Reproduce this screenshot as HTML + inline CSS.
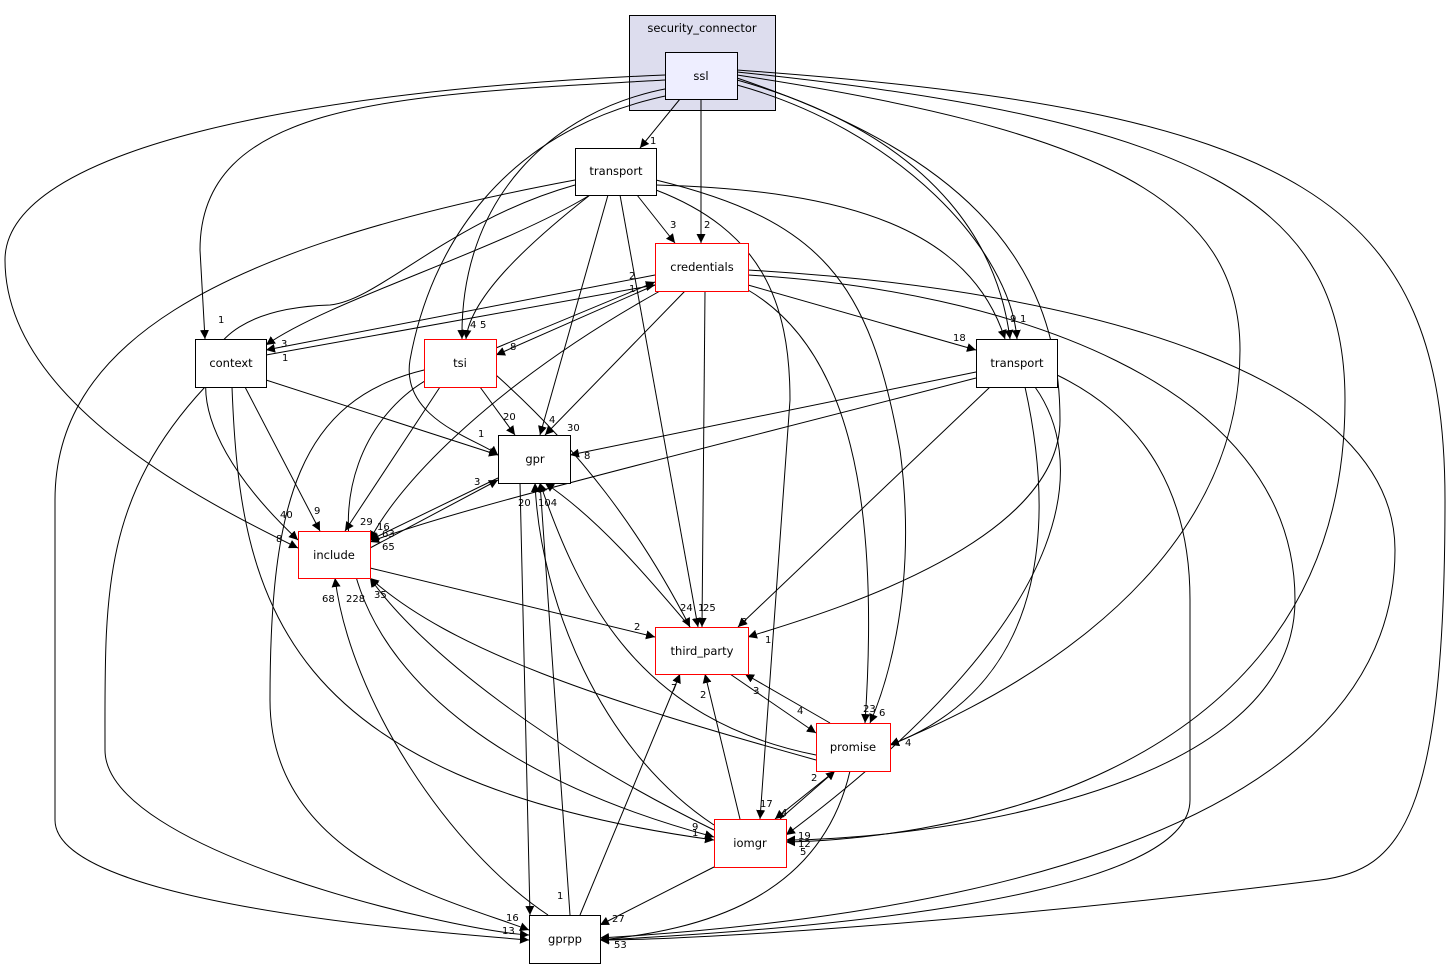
<!DOCTYPE html>
<html><head><meta charset="utf-8"><style>
html,body{margin:0;padding:0;background:#fff;}
svg{display:block;font-family:"DejaVu Sans","Liberation Sans",sans-serif;}
.e{fill:none;stroke:#000;stroke-width:1;marker-end:url(#a);}
.l{font-size:10px;fill:#000;}
.n{font-size:11.5px;fill:#000;text-anchor:middle;}
</style></head><body>
<svg width="1451" height="969" viewBox="0 0 1451 969" xmlns="http://www.w3.org/2000/svg">
<defs><marker id="a" viewBox="0 0 10 10" refX="10" refY="5" markerWidth="9" markerHeight="9" markerUnits="userSpaceOnUse" orient="auto"><path d="M0,0 L10,5 L0,10 z" fill="#000"/></marker></defs>
<rect x="629.5" y="15.5" width="146" height="95" fill="#ddddee" stroke="#000"/>
<text class="n" x="702" y="32">security_connector</text>

<path class="e" d="M680,99 L640,148"/>
<path class="e" d="M701,99 L701,243"/>
<path class="e" d="M665,80 C400,95 200,100 200,250 L205,339"/>
<path class="e" d="M665,75 C300,90 5,150 5,260 C5,400 200,500 298,548"/>
<path class="e" d="M670,88 C550,110 460,200 462,339"/>
<path class="e" d="M670,95 C500,130 430,250 410,360 C400,420 480,440 498,455"/>
<path class="e" d="M737,85 C900,130 1010,250 1017,339"/>
<path class="e" d="M737,80 C950,140 1000,260 1010,339"/>
<path class="e" d="M737,78 C950,150 1060,250 1060,420 C1060,550 800,620 748,637"/>
<path class="e" d="M737,75 C1100,130 1240,200 1240,350 C1240,600 950,720 890,745"/>
<path class="e" d="M737,72 C1200,120 1345,200 1345,400 C1345,800 900,840 786,842"/>
<path class="e" d="M737,70 C1300,110 1445,200 1445,500 C1445,820 1400,870 1320,880 C1000,920 700,940 600,940"/>

<path class="e" d="M590,195 C500,250 330,300 266,345"/>
<path class="e" d="M575,185 C450,220 380,300 330,305 C170,310 170,420 298,540"/>
<path class="e" d="M575,180 C200,250 55,350 55,500 L55,820 C55,900 400,930 529,940"/>
<path class="e" d="M590,195 C520,250 470,300 466,339"/>
<path class="e" d="M608,195 L540,435"/>
<path class="e" d="M620,195 L698,627"/>
<path class="e" d="M637,195 L675,243"/>
<path class="e" d="M656,185 C850,190 970,230 1005,339"/>
<path class="e" d="M656,190 C760,230 790,300 790,400 L760,819"/>
<path class="e" d="M656,180 C820,220 870,280 900,450 C920,600 880,700 870,723"/>

<path class="e" d="M655,285 L496,355"/>
<path class="e" d="M496,348 L655,282"/>
<path class="e" d="M655,275 L266,350"/>
<path class="e" d="M266,355 L655,285"/>
<path class="e" d="M685,291 L545,435"/>
<path class="e" d="M660,291 C500,380 400,480 370,540"/>
<path class="e" d="M705,291 L702,627"/>
<path class="e" d="M748,285 L976,350"/>
<path class="e" d="M748,290 C850,350 880,500 865,723"/>
<path class="e" d="M748,275 C1000,290 1295,380 1295,600 C1295,800 900,840 786,840"/>
<path class="e" d="M748,270 C1100,290 1395,380 1395,550 C1395,850 900,920 600,938"/>

<path class="e" d="M266,380 L498,455"/>
<path class="e" d="M245,387 L320,531"/>
<path class="e" d="M232,387 C240,600 280,780 714,840"/>
<path class="e" d="M205,387 C100,500 105,600 105,750 C105,850 450,930 529,935"/>

<path class="e" d="M480,387 L515,435"/>
<path class="e" d="M440,387 L345,531"/>
<path class="e" d="M496,375 C580,450 640,530 690,627"/>
<path class="e" d="M430,378 C300,450 280,720 714,837"/>
<path class="e" d="M424,370 C300,400 270,500 270,700 C270,860 450,900 529,930"/>

<path class="e" d="M976,372 L570,455"/>
<path class="e" d="M976,378 C700,450 450,510 370,542"/>
<path class="e" d="M990,387 L738,627"/>
<path class="e" d="M1025,387 C1050,500 1060,680 890,745"/>
<path class="e" d="M1035,387 C1080,450 1100,600 786,835"/>
<path class="e" d="M1057,375 C1150,420 1190,500 1190,600 L1190,800 C1190,900 800,930 600,940"/>

<path class="e" d="M498,478 L370,540"/>
<path class="e" d="M370,548 L498,480"/>
<path class="e" d="M520,483 L530,915"/>
<path class="e" d="M370,568 L655,637"/>
<path class="e" d="M690,627 C650,580 600,520 545,483"/>
<path class="e" d="M730,674 L816,733"/>
<path class="e" d="M830,723 L745,674"/>
<path class="e" d="M816,760 C600,700 450,650 370,578"/>
<path class="e" d="M816,755 C640,720 580,600 540,483"/>
<path class="e" d="M835,771 L775,819"/>
<path class="e" d="M780,819 L835,771"/>
<path class="e" d="M850,771 C820,900 700,930 600,940"/>
<path class="e" d="M714,830 C550,750 420,650 370,578"/>
<path class="e" d="M740,819 L705,674"/>
<path class="e" d="M714,825 C600,750 540,600 535,483"/>
<path class="e" d="M714,867 L600,925"/>
<path class="e" d="M548,915 C450,850 350,700 335,578"/>
<path class="e" d="M570,915 L540,483"/>
<path class="e" d="M580,915 L680,674"/>

<rect x="665.5" y="52.5" width="72" height="47" fill="#eeeeff" stroke="#000"/><text class="n" x="701" y="80">ssl</text>
<rect x="575.5" y="148.5" width="81" height="47" fill="#fff" stroke="#000"/><text class="n" x="616" y="175">transport</text>
<rect x="655.5" y="243.5" width="93" height="48" fill="#fff" stroke="red"/><text class="n" x="702" y="271">credentials</text>
<rect x="195.5" y="339.5" width="71" height="48" fill="#fff" stroke="#000"/><text class="n" x="231" y="367">context</text>
<rect x="424.5" y="339.5" width="72" height="48" fill="#fff" stroke="red"/><text class="n" x="460" y="367">tsi</text>
<rect x="976.5" y="339.5" width="81" height="48" fill="#fff" stroke="#000"/><text class="n" x="1017" y="367">transport</text>
<rect x="498.5" y="435.5" width="72" height="48" fill="#fff" stroke="#000"/><text class="n" x="535" y="463">gpr</text>
<rect x="298.5" y="531.5" width="72" height="47" fill="#fff" stroke="red"/><text class="n" x="334" y="559">include</text>
<rect x="655.5" y="627.5" width="93" height="47" fill="#fff" stroke="red"/><text class="n" x="702" y="655">third_party</text>
<rect x="816.5" y="723.5" width="74" height="48" fill="#fff" stroke="red"/><text class="n" x="853" y="751">promise</text>
<rect x="714.5" y="819.5" width="72" height="48" fill="#fff" stroke="red"/><text class="n" x="750" y="847">iomgr</text>
<rect x="529.5" y="915.5" width="71" height="48" fill="#fff" stroke="#000"/><text class="n" x="565" y="943">gprpp</text>

<text class="l" x="650" y="144">1</text>
<text class="l" x="704" y="228">2</text>
<text class="l" x="670" y="228">3</text>
<text class="l" x="218" y="323">1</text>
<text class="l" x="281" y="347">3</text>
<text class="l" x="282" y="361">1</text>
<text class="l" x="470" y="328">4</text>
<text class="l" x="480" y="328">5</text>
<text class="l" x="510" y="350">8</text>
<text class="l" x="629" y="279">2</text>
<text class="l" x="629" y="292">1</text>
<text class="l" x="1010" y="322">9</text>
<text class="l" x="1020" y="322">1</text>
<text class="l" x="953" y="341">18</text>
<text class="l" x="549" y="423">4</text>
<text class="l" x="567" y="431">30</text>
<text class="l" x="503" y="420">20</text>
<text class="l" x="478" y="437">1</text>
<text class="l" x="584" y="459">8</text>
<text class="l" x="474" y="485">3</text>
<text class="l" x="280" y="518">40</text>
<text class="l" x="314" y="514">9</text>
<text class="l" x="276" y="542">8</text>
<text class="l" x="360" y="525">29</text>
<text class="l" x="377" y="530">16</text>
<text class="l" x="382" y="537">63</text>
<text class="l" x="382" y="550">65</text>
<text class="l" x="518" y="506">20</text>
<text class="l" x="538" y="506">104</text>
<text class="l" x="322" y="602">68</text>
<text class="l" x="346" y="602">228</text>
<text class="l" x="374" y="598">35</text>
<text class="l" x="634" y="630">2</text>
<text class="l" x="680" y="611">24</text>
<text class="l" x="698" y="611">1</text>
<text class="l" x="703" y="611">25</text>
<text class="l" x="741" y="625">3</text>
<text class="l" x="765" y="643">1</text>
<text class="l" x="671" y="691">7</text>
<text class="l" x="700" y="698">2</text>
<text class="l" x="753" y="694">3</text>
<text class="l" x="797" y="714">4</text>
<text class="l" x="863" y="712">23</text>
<text class="l" x="879" y="716">6</text>
<text class="l" x="905" y="746">4</text>
<text class="l" x="811" y="781">2</text>
<text class="l" x="760" y="807">17</text>
<text class="l" x="781" y="816">4</text>
<text class="l" x="692" y="830">9</text>
<text class="l" x="692" y="836">1</text>
<text class="l" x="798" y="839">19</text>
<text class="l" x="798" y="847">12</text>
<text class="l" x="800" y="855">5</text>
<text class="l" x="557" y="899">1</text>
<text class="l" x="506" y="921">16</text>
<text class="l" x="502" y="934">13</text>
<text class="l" x="612" y="922">27</text>
<text class="l" x="614" y="948">53</text>
</svg>
</body></html>
